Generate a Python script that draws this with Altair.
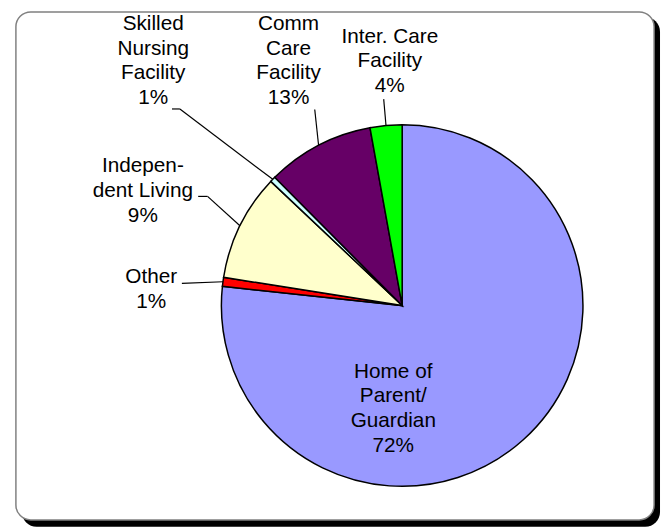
import altair as alt
import pandas as pd

# ---- data ----
categories = ["Home of Parent/Guardian", "Other", "Independent Living",
              "Skilled Nursing Facility", "Comm Care Facility", "Inter. Care Facility"]
slice_values = [76.7, 0.8, 9.55, 0.5, 9.6, 2.85]
label_text = ["Home of\nParent/\nGuardian", "Other", "Indepen-\ndent Living",
              "Skilled\nNursing\nFacility", "Comm\nCare\nFacility", "Inter. Care\nFacility"]
percent_labels = ["72%", "1%", "9%", "1%", "13%", "4%"]

# ---- styles ----
colors = ["#9999FF", "#FF0000", "#FFFFCC", "#CCFFFF", "#660066", "#00FF00"]

# ---- layout (pixels within the chart) ----
W, H = 661, 523
CX, CY, R = 399, 298, 183
FONT = "Liberation Sans"
FS = 21
LH = 25
# text anchor (center x, first baseline y) and leader start / elbow
label_pos = [
    dict(tx=390, ty=371, lead=0, lx1=0, ly1=0, ex=0, ey=0),
    dict(tx=145, ty=275, lead=1, lx1=176, ly1=275.5, ex=176, ey=275.5),
    dict(tx=136.5, ty=163, lead=1, lx1=192.5, ly1=187.5, ex=202, ey=187.5),
    dict(tx=147, ty=19, lead=1, lx1=166, ly1=99, ex=174, ey=99),
    dict(tx=284, ty=19, lead=1, lx1=310.5, ly1=99.5, ex=310.5, ey=99.5),
    dict(tx=386.5, ty=32, lead=1, lx1=380.3, ly1=89, ex=380.3, ey=89),
]

rows = []
for i, c in enumerate(categories):
    r = dict(cat=c, value=slice_values[i], ord=i,
             label=label_text[i] + "\n" + percent_labels[i])
    r.update(label_pos[i])
    rows.append(r)
df = pd.DataFrame(rows)

base = alt.Chart(df)
one = alt.Chart(alt.Data(values=[{"a": 1}]))

shadow = one.mark_rect(color="black", cornerRadius=15).encode(
    x=alt.value(14), x2=alt.value(660), y=alt.value(6), y2=alt.value(522))
frame = one.mark_rect(fill="white", stroke="#808080", strokeWidth=1.5, cornerRadius=15).encode(
    x=alt.value(8), x2=alt.value(654), y=alt.value(0.75), y2=alt.value(515))

pie = base.mark_arc(radius=R, stroke="black", strokeWidth=1.5).encode(
    theta=alt.Theta("value:Q", stack=True),
    color=alt.Color("cat:N", scale=alt.Scale(domain=categories, range=colors), legend=None),
    order=alt.Order("ord:Q"),
    x=alt.value(CX), y=alt.value(CY),
)

lead_base = base.transform_joinaggregate(total="sum(value)").transform_window(
    cum="sum(value)", sort=[alt.SortField("ord")], frame=[None, 0]
).transform_calculate(
    mid="(datum.cum - datum.value/2)/datum.total*2*PI",
    px=f"{CX} + {R}*sin(datum.mid)",
    py=f"{CY} - {R}*cos(datum.mid)",
).transform_filter("datum.lead == 1")

seg1 = lead_base.mark_rule(color="black", strokeWidth=1.2).encode(
    x=alt.X("lx1:Q", scale=None), y=alt.Y("ly1:Q", scale=None),
    x2="ex:Q", y2="ey:Q")
seg2 = lead_base.mark_rule(color="black", strokeWidth=1.2).encode(
    x=alt.X("ex:Q", scale=None), y=alt.Y("ey:Q", scale=None),
    x2="px:Q", y2="py:Q")

text = base.mark_text(font=FONT, fontSize=FS, lineHeight=LH, lineBreak="\n",
                      align="center", baseline="alphabetic", color="black").encode(
    x=alt.X("tx:Q", scale=None), y=alt.Y("ty:Q", scale=None), text="label:N")

chart = alt.layer(shadow, frame, pie, seg1, seg2, text).properties(
    width=W, height=H, padding=0, autosize="none", background="white"
).configure_view(stroke=None)

chart.save("out.html", embed_options={"renderer": "svg", "actions": False})
